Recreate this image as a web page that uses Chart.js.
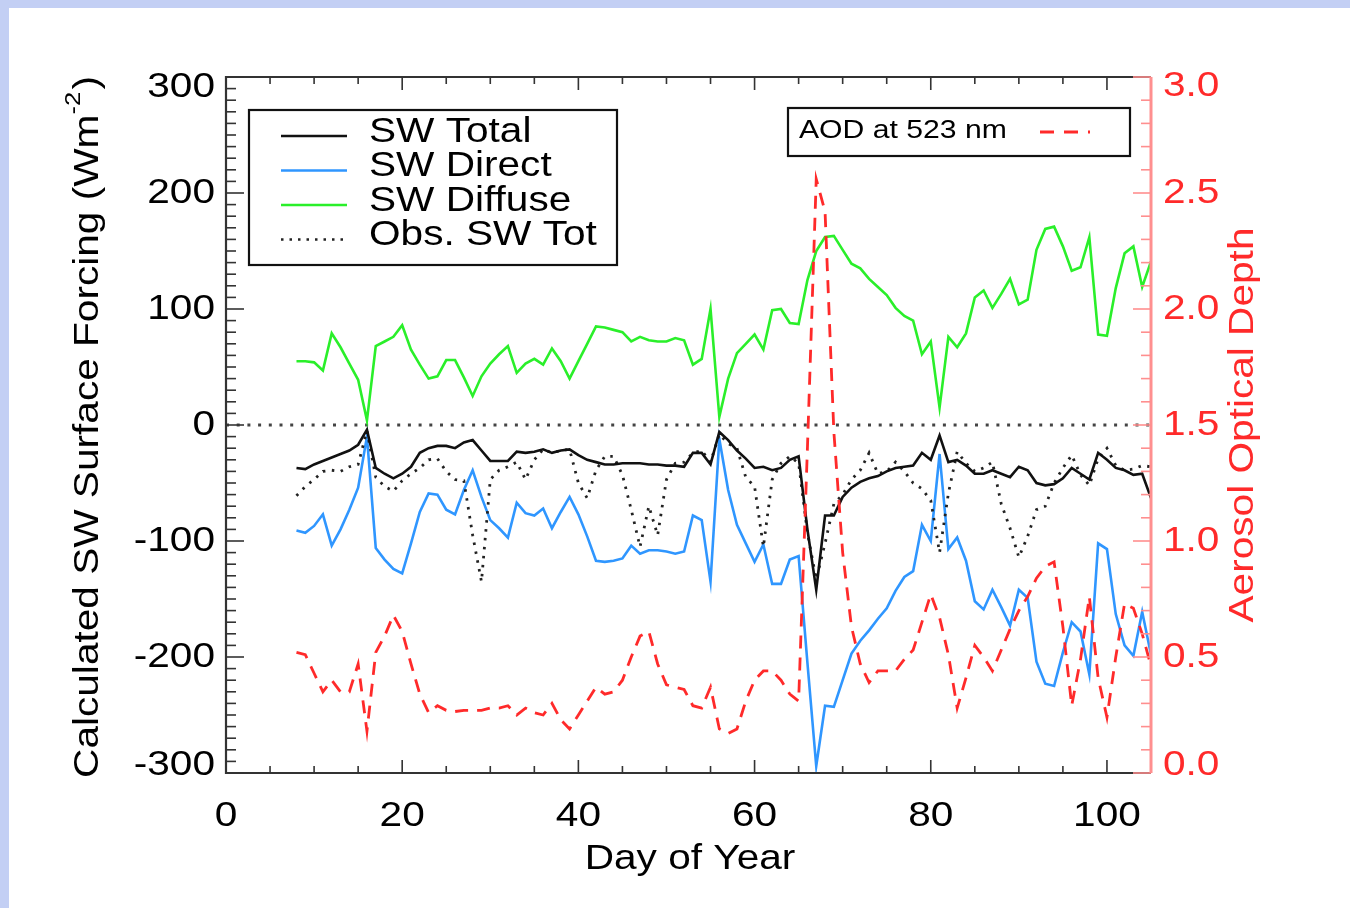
<!DOCTYPE html>
<html>
<head>
<meta charset="utf-8">
<script src="https://cdn.jsdelivr.net/npm/chart.js@4.4.1/dist/chart.umd.min.js"></script>
<style>
  html, body { margin: 0; padding: 0; background: #ffffff; }
  #wrap { position: absolute; left: 0; top: 0; width: 1350px; height: 908px; }
</style>
</head>
<body>
<div id="wrap"><canvas id="grafico" width="1350" height="908"></canvas></div>
<script>

// ===============================
// DADOS
// ===============================

const dias = [];
for (let d = 8; d <= 105; d++) dias.push(d);

const swTotal = [
    -37, -38, -34, -31, -28, -25, -22, -17, -4, -37,
    -42, -46, -42, -36, -24, -20, -18, -18, -20, -15,
    -13, -22, -31, -31, -31, -23, -24, -23, -21, -24,
    -22, -21, -26, -30, -32, -34, -34, -33, -33, -33,
    -34, -34, -35, -35, -36, -24, -24, -34, -6, -13,
    -22, -29, -37, -36, -39, -37, -30, -27, -90, -142,
    -78, -78, -62, -54, -49, -46, -44, -40, -37, -36,
    -35, -24, -30, -9, -32, -30, -35, -42, -42, -39,
    -42, -45, -36, -39, -50, -52, -51, -46, -37, -42,
    -47, -24, -30, -37, -39, -43, -42, -63
];

const swDirect = [
    -91, -93, -87, -77, -104, -90, -73, -54, -10, -106,
    -116, -124, -128, -102, -75, -59, -60, -73, -77, -56,
    -39, -62, -82, -89, -97, -67, -76, -78, -72, -89,
    -75, -62, -77, -96, -117, -118, -117, -115, -104, -111,
    -108, -108, -109, -111, -109, -78, -82, -135, -12, -56,
    -86, -102, -118, -103, -137, -137, -116, -113, -205, -294,
    -242, -243, -220, -197, -186, -177, -167, -158, -143, -131,
    -126, -86, -100, -25, -107, -97, -117, -152, -159, -142,
    -157, -173, -142, -149, -204, -223, -225, -196, -170, -178,
    -215, -102, -107, -163, -190, -199, -161, -198
];

const swDiffuse = [
    55, 55, 54, 47, 79, 67, 53, 39, 4, 68,
    72, 76, 86, 65, 52, 40, 42, 56, 56, 41,
    25, 42, 53, 61, 68, 45, 53, 57, 52, 66,
    55, 40, 55, 70, 85, 84, 82, 80, 72, 76,
    73, 72, 72, 75, 73, 52, 57, 100, 7, 40,
    62, 70, 78, 65, 99, 100, 88, 87, 125, 150,
    162, 163, 151, 139, 135, 126, 119, 112, 101, 94,
    90, 61, 72, 15, 76, 67, 79, 110, 116, 101,
    113, 126, 104, 108, 151, 169, 171, 154, 133, 136,
    162, 78, 77, 118, 148, 154, 119, 141
];

const obsTotal = [
    -61, -53, -47, -40, -39, -40, -36, -34, -5, -45,
    -53, -57, -48, -42, -37, -30, -29, -40, -47, -48,
    -95, -135, -47, -39, -36, -32, -47, -30, -21, -24,
    -22, -21, -50, -63, -39, -27, -27, -43, -73, -105,
    -70, -95, -47, -33, -32, -24, -22, -32, -8, -16,
    -20, -45, -53, -105, -47, -33, -27, -33, -93, -133,
    -102, -68, -60, -47, -39, -24, -42, -40, -32, -40,
    -50, -55, -65, -110, -59, -23, -33, -40, -37, -32,
    -68, -89, -114, -96, -73, -70, -50, -37, -26, -43,
    -52, -29, -20, -35, -39, -38, -35, -36
];

const aod = [
    0.52, 0.51, 0.43, 0.35, 0.40, 0.35, 0.35, 0.47, 0.18, 0.52,
    0.59, 0.68, 0.61, 0.47, 0.34, 0.26, 0.29, 0.27, 0.265, 0.27,
    0.27, 0.27, 0.28, 0.28, 0.29, 0.25, 0.28, 0.26, 0.25, 0.30,
    0.23, 0.19, 0.25, 0.31, 0.37, 0.34, 0.35, 0.40, 0.50, 0.59,
    0.61, 0.47, 0.38, 0.37, 0.36, 0.29, 0.28, 0.37, 0.19, 0.17,
    0.19, 0.31, 0.40, 0.44, 0.44, 0.40, 0.34, 0.31, 1.40, 2.56,
    2.42, 1.47, 0.95, 0.63, 0.47, 0.39, 0.44, 0.44, 0.44, 0.49,
    0.53, 0.65, 0.77, 0.67, 0.51, 0.28, 0.41, 0.55, 0.50, 0.44,
    0.53, 0.62, 0.70, 0.76, 0.84, 0.89, 0.91, 0.63, 0.29, 0.49,
    0.76, 0.41, 0.24, 0.50, 0.73, 0.71, 0.60, 0.46
];

const ticksX = [0, 20, 40, 60, 80, 100];
const ticksY = [-300, -200, -100, 0, 100, 200, 300];
const ticksY2 = [0.0, 0.5, 1.0, 1.5, 2.0, 2.5, 3.0];

const legendaNomes = ["SW Total", "SW Direct", "SW Diffuse", "Obs. SW Tot"];

const COR_TOTAL = "#111111";
const COR_DIRECT = "#2f96ff";
const COR_DIFFUSE = "#2aef2a";
const COR_AOD = "#ff2a2a";

// ===============================
// UTILITARIOS
// ===============================

const FONTE = "'Liberation Sans', Arial, Helvetica, sans-serif";
const ESTICA = 1.16;

function pontos(valores) {
    return dias.map((d, i) => ({ x: d, y: valores[i] }));
}

function texto(ctx, s, x, y, align, size, cor) {
    ctx.save();
    ctx.translate(x, y);
    ctx.scale(ESTICA, 1);
    ctx.font = size + "px " + FONTE;
    ctx.fillStyle = cor;
    ctx.textAlign = align;
    ctx.textBaseline = "middle";
    ctx.fillText(s, 0, 0);
    ctx.restore();
}

// ===============================
// PLUGIN: MOLDURA, EIXOS, LEGENDAS
// ===============================

const fundoPlugin = {
    id: "fundo",
    beforeDraw(chart) {
        const ctx = chart.ctx;
        ctx.save();
        ctx.fillStyle = "#c3cff4";
        ctx.fillRect(0, 0, 1350, 908);
        ctx.fillStyle = "#ffffff";
        ctx.fillRect(9, 8, 1341, 900);
        ctx.restore();
    },
    beforeDatasetsDraw(chart) {
        const ctx = chart.ctx;
        const a = chart.chartArea;
        const y0 = chart.scales.y.getPixelForValue(0);
        ctx.save();
        ctx.strokeStyle = "#444444";
        ctx.lineWidth = 3;
        ctx.setLineDash([3, 7.7]);
        ctx.beginPath();
        ctx.moveTo(a.left, y0);
        ctx.lineTo(a.right, y0);
        ctx.stroke();
        ctx.restore();
    }
};

const eixosPlugin = {
    id: "eixos",
    afterDraw(chart) {
        const ctx = chart.ctx;
        const a = chart.chartArea;
        const sx = chart.scales.x;
        const sy = chart.scales.y;
        const sy2 = chart.scales.y2;

        ctx.save();
        ctx.lineCap = "butt";

        // moldura
        ctx.lineWidth = 2.2;
        ctx.strokeStyle = "#333333";
        ctx.beginPath();
        ctx.moveTo(a.right, a.top);
        ctx.lineTo(a.left, a.top);
        ctx.lineTo(a.left, a.bottom);
        ctx.lineTo(a.right, a.bottom);
        ctx.stroke();

        // ticks x (baixo e cima)
        ctx.lineWidth = 1.6;
        for (let d = 0; d <= 105; d += 5) {
            const px = sx.getPixelForValue(d);
            const len = d % 20 === 0 ? 13 : 7;
            ctx.beginPath();
            ctx.moveTo(px, a.bottom);
            ctx.lineTo(px, a.bottom - len);
            ctx.moveTo(px, a.top);
            ctx.lineTo(px, a.top + len);
            ctx.stroke();
        }

        // ticks y esquerda
        for (let v = -300; v <= 300; v += 10) {
            const py = sy.getPixelForValue(v);
            const len = v % 100 === 0 ? 18 : 10;
            ctx.beginPath();
            ctx.moveTo(a.left, py);
            ctx.lineTo(a.left + len, py);
            ctx.stroke();
        }

        // eixo direito (vermelho)
        ctx.strokeStyle = "#ff8f8f";
        ctx.lineWidth = 3;
        ctx.beginPath();
        ctx.moveTo(a.right, a.top);
        ctx.lineTo(a.right, a.bottom);
        ctx.stroke();
        ctx.lineWidth = 1.6;
        for (let k = 0; k <= 30; k++) {
            const py = sy2.getPixelForValue(k / 10);
            const len = k % 5 === 0 ? 18 : 10;
            ctx.beginPath();
            ctx.moveTo(a.right, py);
            ctx.lineTo(a.right - len, py);
            ctx.stroke();
        }

        // rotulos
        ticksX.forEach(d => {
            texto(ctx, String(d), sx.getPixelForValue(d), 816, "center", 35, "#000000");
        });
        ticksY.forEach(v => {
            let py = sy.getPixelForValue(v);
            if (v === 300) py += 10;
            if (v === -300) py -= 8;
            texto(ctx, String(v), 215, py, "right", 35, "#000000");
        });
        ticksY2.forEach(v => {
            let py = sy2.getPixelForValue(v);
            if (v === 3) py += 9;
            if (v === 0) py -= 8;
            texto(ctx, v.toFixed(1), 1163, py, "left", 35, COR_AOD);
        });

        // titulos
        texto(ctx, "Day of Year", 690, 859, "center", 35, "#000000");

        ctx.save();
        ctx.translate(88, 427);
        ctx.rotate(-Math.PI / 2);
        ctx.scale(ESTICA, 1);
        ctx.fillStyle = "#000000";
        ctx.textBaseline = "middle";
        ctx.textAlign = "left";
        const p1 = "Calculated SW Surface Forcing (Wm";
        const p2 = "-2";
        const p3 = ")";
        ctx.font = "35px " + FONTE;
        const w1 = ctx.measureText(p1).width;
        const w3 = ctx.measureText(p3).width;
        ctx.font = "22px " + FONTE;
        const w2 = ctx.measureText(p2).width;
        const total = w1 + w2 + w3 + 2;
        let cx = -total / 2;
        ctx.font = "35px " + FONTE;
        ctx.fillText(p1, cx, 0);
        cx += w1;
        ctx.font = "22px " + FONTE;
        ctx.fillText(p2, cx, -14);
        cx += w2 + 2;
        ctx.font = "35px " + FONTE;
        ctx.fillText(p3, cx, 0);
        ctx.restore();

        ctx.save();
        ctx.translate(1243, 425);
        ctx.rotate(-Math.PI / 2);
        texto(ctx, "Aerosol Optical Depth", 0, 0, "center", 35, COR_AOD);
        ctx.restore();

        // legenda principal
        ctx.strokeStyle = "#111111";
        ctx.lineWidth = 2.2;
        ctx.setLineDash([]);
        ctx.strokeRect(249, 110, 368, 155);

        const estilos = [
            { cor: COR_TOTAL, dash: [] },
            { cor: COR_DIRECT, dash: [] },
            { cor: COR_DIFFUSE, dash: [] },
            { cor: "#222222", dash: [2.5, 6] }
        ];
        legendaNomes.forEach((nome, i) => {
            const yy = 132 + i * 34.5;
            ctx.strokeStyle = estilos[i].cor;
            ctx.setLineDash(estilos[i].dash);
            ctx.lineWidth = 2.6;
            ctx.beginPath();
            ctx.moveTo(281, yy + 4);
            ctx.lineTo(347, yy + 4);
            ctx.stroke();
            texto(ctx, nome, 369, yy, "left", 35, "#000000");
        });

        // legenda AOD
        ctx.setLineDash([]);
        ctx.strokeStyle = "#111111";
        ctx.lineWidth = 2.2;
        ctx.strokeRect(788, 108, 342, 48);
        texto(ctx, "AOD at 523 nm", 799, 131, "left", 26, "#000000");
        ctx.strokeStyle = COR_AOD;
        ctx.lineWidth = 2.8;
        ctx.setLineDash([14, 10]);
        ctx.beginPath();
        ctx.moveTo(1040, 132);
        ctx.lineTo(1090, 132);
        ctx.stroke();

        ctx.restore();
    }
};

// ===============================
// GRAFICO
// ===============================

function renderGrafico() {

    const ctx = document.getElementById("grafico");

    new Chart(ctx, {
        type: "line",
        data: {
            datasets: [
                {
                    label: "AOD at 523 nm",
                    data: pontos(aod),
                    yAxisID: "y2",
                    borderColor: COR_AOD,
                    borderWidth: 2.8,
                    borderDash: [13, 9]
                },
                {
                    label: legendaNomes[0],
                    data: pontos(swTotal),
                    yAxisID: "y",
                    borderColor: COR_TOTAL,
                    borderWidth: 2.6
                },
                {
                    label: legendaNomes[3],
                    data: pontos(obsTotal),
                    yAxisID: "y",
                    borderColor: "#222222",
                    borderWidth: 2.8,
                    borderDash: [2.5, 6.5]
                },
                {
                    label: legendaNomes[1],
                    data: pontos(swDirect),
                    yAxisID: "y",
                    borderColor: COR_DIRECT,
                    borderWidth: 2.6
                },
                {
                    label: legendaNomes[2],
                    data: pontos(swDiffuse),
                    yAxisID: "y",
                    borderColor: COR_DIFFUSE,
                    borderWidth: 2.6
                }
            ]
        },
        options: {
            responsive: false,
            animation: false,
            layout: { padding: { left: 226, right: 199, top: 77, bottom: 135 } },
            elements: {
                point: { radius: 0 },
                line: { tension: 0, fill: false }
            },
            scales: {
                x: { type: "linear", min: 0, max: 105, display: false },
                y: { type: "linear", min: -300, max: 300, display: false },
                y2: { type: "linear", position: "right", min: 0, max: 3, display: false }
            },
            plugins: {
                legend: { display: false },
                tooltip: { enabled: false }
            }
        },
        plugins: [fundoPlugin, eixosPlugin]
    });

}

window.addEventListener("load", renderGrafico);

</script>
</body>
</html>
